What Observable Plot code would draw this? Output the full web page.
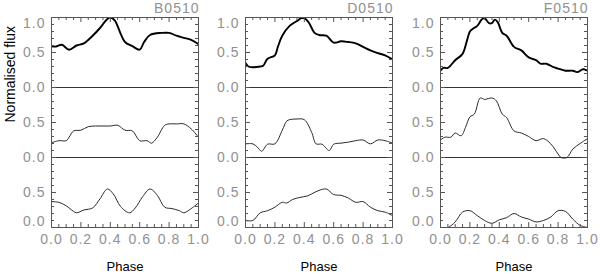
<!DOCTYPE html>
<html><head><meta charset="utf-8">
<script src="https://cdn.jsdelivr.net/npm/d3@7"></script>
<script src="https://cdn.jsdelivr.net/npm/@observablehq/plot@0.6"></script>
<style>
body{margin:0;background:#fff;}
#chart{position:relative;width:600px;height:274px;overflow:hidden;}
#chart svg{position:absolute;top:0;}
#chart [aria-label="x-axis tick label"] text,
#chart [aria-label="y-axis tick label"] text,
#chart .ttl text{letter-spacing:1px;}
</style></head><body><div id="chart"></div>
<script>
// Panel titles
const titles = ["B0510", "D0510", "F0510"];
// Tick values / labels (stacked: bottom row 0-1, middle row 1-2, top row 2-3)
const phaseTicks = [0, 0.2, 0.4, 0.6, 0.8, 1.0];
const yTickValues = [0, 0.5, 1, 1.5, 2, 2.5, 3];
const yTickLabels = ["0.0", "0.5", "0.0", "0.5", "0.0", "0.5", "1.0"];

// [phase, normalised flux]
const B0510_top = [[0,0.59],[0.03,0.585],[0.07,0.61],[0.12,0.54],[0.17,0.6],[0.22,0.63],[0.28,0.74],[0.33,0.85],[0.38,0.98],[0.4,1.0],[0.43,0.96],[0.47,0.77],[0.5,0.65],[0.55,0.59],[0.6,0.54],[0.63,0.65],[0.67,0.75],[0.75,0.78],[0.8,0.78],[0.85,0.74],[0.9,0.71],[0.95,0.68],[1.0,0.62]];
const B0510_mid = [[0,0.21],[0.05,0.24],[0.1,0.24],[0.12,0.29],[0.15,0.38],[0.2,0.39],[0.25,0.44],[0.3,0.45],[0.35,0.45],[0.4,0.45],[0.45,0.46],[0.5,0.39],[0.55,0.38],[0.6,0.24],[0.65,0.24],[0.68,0.205],[0.72,0.29],[0.77,0.46],[0.8,0.48],[0.85,0.48],[0.9,0.48],[0.95,0.41],[1.0,0.29]];
const B0510_bot = [[0,0.37],[0.05,0.36],[0.1,0.31],[0.15,0.23],[0.17,0.21],[0.22,0.25],[0.28,0.28],[0.33,0.41],[0.38,0.55],[0.42,0.48],[0.47,0.3],[0.53,0.21],[0.57,0.28],[0.62,0.44],[0.67,0.55],[0.72,0.46],[0.77,0.29],[0.82,0.27],[0.87,0.24],[0.9,0.21],[0.95,0.27],[1.0,0.35]];

const D0510_top = [[0,0.35],[0.02,0.3],[0.05,0.29],[0.1,0.3],[0.12,0.31],[0.15,0.41],[0.2,0.46],[0.22,0.58],[0.25,0.74],[0.3,0.88],[0.35,0.95],[0.38,0.99],[0.4,0.99],[0.43,0.93],[0.47,0.78],[0.5,0.75],[0.55,0.74],[0.6,0.64],[0.65,0.66],[0.7,0.65],[0.75,0.63],[0.8,0.58],[0.85,0.53],[0.9,0.49],[0.95,0.46],[1.0,0.4]];
const D0510_mid = [[0,0.195],[0.05,0.195],[0.08,0.15],[0.11,0.09],[0.15,0.19],[0.2,0.195],[0.25,0.39],[0.28,0.52],[0.3,0.54],[0.35,0.55],[0.4,0.54],[0.45,0.36],[0.48,0.195],[0.52,0.19],[0.57,0.1],[0.6,0.19],[0.65,0.205],[0.7,0.22],[0.75,0.24],[0.8,0.25],[0.85,0.195],[0.9,0.25],[0.95,0.24],[1.0,0.205]];
const D0510_bot = [[0,0.1],[0.05,0.1],[0.1,0.21],[0.15,0.24],[0.2,0.29],[0.25,0.36],[0.28,0.35],[0.32,0.4],[0.37,0.43],[0.42,0.45],[0.45,0.48],[0.5,0.53],[0.55,0.55],[0.6,0.47],[0.65,0.46],[0.7,0.42],[0.75,0.36],[0.8,0.37],[0.85,0.29],[0.9,0.24],[0.95,0.22],[1.0,0.17]];

const F0510_top = [[0,0.24],[0.02,0.28],[0.05,0.28],[0.1,0.39],[0.15,0.48],[0.18,0.67],[0.2,0.8],[0.22,0.84],[0.25,0.88],[0.28,0.97],[0.3,0.99],[0.33,0.92],[0.35,0.92],[0.37,0.97],[0.39,0.93],[0.42,0.78],[0.45,0.74],[0.5,0.58],[0.55,0.53],[0.6,0.43],[0.65,0.39],[0.68,0.34],[0.72,0.34],[0.77,0.29],[0.8,0.27],[0.85,0.24],[0.9,0.24],[0.93,0.22],[0.97,0.26],[1.0,0.24]];
const F0510_mid = [[0,0.25],[0.03,0.29],[0.07,0.29],[0.1,0.35],[0.14,0.31],[0.17,0.43],[0.2,0.58],[0.23,0.62],[0.27,0.85],[0.3,0.83],[0.35,0.85],[0.38,0.81],[0.42,0.62],[0.45,0.57],[0.5,0.38],[0.55,0.35],[0.6,0.3],[0.65,0.24],[0.7,0.27],[0.75,0.195],[0.8,0.05],[0.82,0.0],[0.86,0.0],[0.9,0.12],[0.95,0.2],[1.0,0.27]];
const F0510_bot = [[0,0.0],[0.05,0.0],[0.1,0.08],[0.15,0.22],[0.2,0.24],[0.25,0.17],[0.3,0.1],[0.35,0.06],[0.4,0.11],[0.45,0.14],[0.5,0.2],[0.55,0.15],[0.6,0.12],[0.65,0.08],[0.7,0.1],[0.75,0.15],[0.8,0.24],[0.85,0.23],[0.9,0.12],[0.95,0.03],[1.0,0.0]];

const panels = [
  [B0510_bot, B0510_mid, B0510_top],
  [D0510_bot, D0510_mid, D0510_top],
  [F0510_bot, F0510_mid, F0510_top]
];

const W = 147, H = 210, mL = 51, mR = 13, mT = 17, mB = 47;
const lefts = [0, 194, 389];
const grey = "#919191", frameCol = "#555";
const phaseMinor = d3.range(0, 1.0001, 0.05).filter(v => !phaseTicks.some(t => Math.abs(t - v) < 1e-6));
const yMinor = d3.range(0, 3.0001, 0.1).filter(v => !yTickValues.some(t => Math.abs(t - v) < 1e-6));
const yFmt = d => yTickLabels[yTickValues.findIndex(t => Math.abs(t - d) < 1e-6)];

const chart = document.getElementById("chart");
panels.forEach((rows, i) => {
  const marks = [
    Plot.ruleY([1, 2], {stroke: "#333", strokeWidth: 1}),
    ...rows.map((c, k) => Plot.line(c, {
      x: d => d[0], y: d => d[1] + k, curve: "catmull-rom", clip: true,
      stroke: k === 2 ? "#000" : "#2a2a2a", strokeWidth: k === 2 ? 1.9 : 1
    })),
    Plot.frame({stroke: frameCol}),
    // inward ticks
    Plot.tickX(phaseTicks, {x: d => d, insetTop: H - 5, stroke: frameCol}),
    Plot.tickX(phaseTicks, {x: d => d, insetBottom: H - 5, stroke: frameCol}),
    Plot.tickX(phaseMinor, {x: d => d, insetTop: H - 3, stroke: frameCol}),
    Plot.tickX(phaseMinor, {x: d => d, insetBottom: H - 3, stroke: frameCol}),
    Plot.tickY(yTickValues, {y: d => d, insetRight: W - 5, stroke: frameCol}),
    Plot.tickY(yTickValues, {y: d => d, insetLeft: W - 5, stroke: frameCol}),
    Plot.tickY(yMinor, {y: d => d, insetRight: W - 3, stroke: frameCol}),
    Plot.tickY(yMinor, {y: d => d, insetLeft: W - 3, stroke: frameCol}),
    // tick labels
    Plot.axisX(phaseTicks, {tickSize: 0, tickPadding: 7, tickFormat: d3.format(".1f"), label: null, fill: grey, fontSize: 14}),
    Plot.axisY(yTickValues.slice(1, -1), {tickSize: 0, tickPadding: 6, tickFormat: yFmt, label: null, fill: grey, fontSize: 14}),
    Plot.axisY([yTickValues[0]], {tickSize: 0, tickPadding: 6, tickFormat: yFmt, label: null, fill: grey, fontSize: 14, dy: -6}),
    Plot.axisY([yTickValues[yTickValues.length - 1]], {tickSize: 0, tickPadding: 6, tickFormat: yFmt, label: null, fill: grey, fontSize: 14, dy: 6}),
    Plot.text([titles[i]], {text: d => d, frameAnchor: "top-right", textAnchor: "end", lineAnchor: "middle", dy: -9, dx: 1, fill: grey, fontSize: 14, className: "ttl"}),
    Plot.text(["Phase"], {text: d => d, frameAnchor: "bottom", lineAnchor: "middle", dy: 39, fill: "#000", fontSize: 13})
  ];
  if (i === 0) marks.push(Plot.text(["Normalised flux"], {text: d => d, frameAnchor: "left", rotate: -90, dx: -41, lineAnchor: "middle", fill: "#000", fontSize: 14}));
  const svg = Plot.plot({
    width: mL + W + mR, height: mT + H + mB,
    marginLeft: mL, marginRight: mR, marginTop: mT, marginBottom: mB,
    x: {domain: [0, 1]},
    y: {domain: [0, 3]},
    style: {fontFamily: "'Liberation Sans', Arial, sans-serif", background: "transparent", overflow: "visible"},
    marks
  });
  svg.style.left = lefts[i] + "px";
  chart.appendChild(svg);
});
</script></body></html>
